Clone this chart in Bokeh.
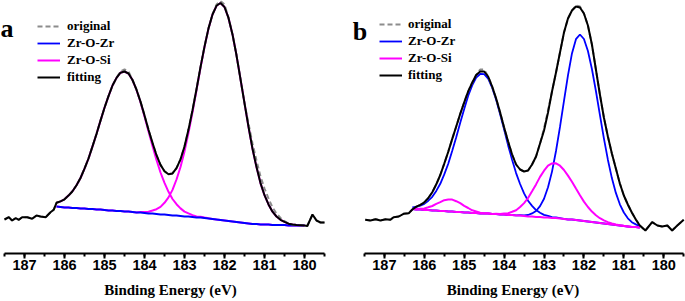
from bokeh.plotting import figure
from bokeh.layouts import row
from bokeh.models import Range1d, SingleIntervalTicker, Legend, LegendItem, Label
from bokeh.embed import file_html
from bokeh.resources import INLINE

# ---------------- Panel a ----------------
# noise region (raw spectrum outside the fitted window)
A_LEFT_E = [187.5, 187.39, 187.31, 187.22, 187.14, 187.06, 186.93, 186.81, 186.7, 186.6, 186.47, 186.35, 186.27]
A_LEFT_I = [34, 36.3, 33, 35.3, 33.7, 36.3, 36.3, 34.7, 38, 37, 36.3, 41.3, 43.7]
A_RIGHT_E = [179.93, 179.8, 179.7, 179.6, 179.5]
A_RIGHT_I = [27.5, 39, 33, 31, 31]

# fitted window
A_E = [186.2, 186.1, 186.0, 185.9, 185.8, 185.7, 185.6, 185.5, 185.4, 185.3,
       185.2, 185.1, 185.0, 184.9, 184.8, 184.7, 184.6, 184.5, 184.4, 184.3,
       184.2, 184.1, 184.0, 183.9, 183.8, 183.7, 183.6, 183.5, 183.4, 183.3,
       183.2, 183.1, 183.0, 182.9, 182.8, 182.7, 182.6, 182.5, 182.4, 182.3,
       182.2, 182.1, 182.0, 181.9, 181.8, 181.7, 181.6, 181.5, 181.4, 181.3,
       181.2, 181.1, 181.0, 180.9, 180.8, 180.7, 180.6, 180.5, 180.4, 180.3,
       180.2, 180.1, 180.0]
A_ZRZR = [47, 46.5, 46, 46, 45.5, 45.5, 45, 45, 44.5, 44.5,
          44, 44, 43.5, 43, 43, 42.5, 42.5, 42, 42, 41.5,
          41, 41, 40.5, 40, 40, 39.5, 39, 39, 38.5, 38,
          38, 37.5, 37, 37, 36.5, 36, 36, 35.5, 35, 34.5,
          34, 33.5, 33, 32.5, 32, 31.5, 31, 30.5, 30, 29.5,
          29.5, 29, 29, 29, 28.5, 28.5, 28.5, 28.5, 28, 28,
          28, 28, 28]
A_ZRSI_1 = [50.7, 52.1, 54.2, 57.9, 62.2, 68.3, 75.5, 84.8, 95, 107.1,
            119.5, 132.9, 145.7, 157.4, 168, 175.6, 180.8, 182, 179.9, 173.4,
            163.5, 151.3, 137.1, 122, 107.6, 93.5, 81, 70.6, 61.7, 54.5,
            49.3, 45.1, 41.9, 40.1, 38.4, 37.1, 36.7, 35.9, 35.2, 34.6,
            34, 33.5, 33, 32.5, 32, 31.5, 31, 30.5, 30, 29.5,
            29.5, 29, 29, 29, 28.5, 28.5, 28.5, 28.5, 28, 28,
            28, 28, 28]
A_ZRSI_2 = [47, 46.5, 46, 46, 45.5, 45.5, 45, 45, 44.5, 44.5,
            44, 44, 43.5, 43, 43, 42.5, 42.5, 42, 42, 41.5,
            41, 41.6, 41.5, 41.8, 43, 44.3, 46.6, 50.7, 56.1, 63.6,
            74, 86.5, 102.1, 120.8, 141.3, 163.2, 185.7, 206.5, 224.9, 238.9,
            247.7, 250.5, 246.5, 235.6, 219.1, 198.2, 174.4, 150.3, 126.6, 104.8,
            86.4, 70.4, 58.3, 49.1, 41.8, 37, 33.7, 31.6, 29.8, 29,
            28.6, 28.3, 28]
A_FIT = [50.7, 52.1, 54.2, 57.9, 62.2, 68.3, 75.5, 84.8, 95, 107.1,
         119.5, 132.9, 145.7, 157.4, 168, 175.6, 180.8, 182, 180, 173.5,
         163.8, 151.9, 138.1, 123.8, 110.6, 98.3, 88.6, 82.3, 79.3, 80.1,
         85.3, 94.1, 107, 123.9, 143.2, 164.3, 186.4, 206.9, 225.1, 239,
         247.7, 250.5, 246.5, 235.6, 219.1, 198.2, 174.4, 150.3, 126.6, 104.8,
         86.4, 70.4, 58.3, 49.1, 41.8, 37, 33.7, 31.6, 29.8, 29,
         28.6, 28.3, 28]
A_ORIG = [50.7, 52.1, 54.2, 57.9, 62.2, 68.3, 75.5, 84.8, 95, 107.1,
          119.5, 132.9, 145.7, 157.4, 168, 175.6, 182, 184, 182, 173.5,
          163.8, 151.9, 138.1, 123.8, 110.6, 98.3, 88.6, 82.3, 79.3, 80.1,
          85.3, 94.1, 107, 123.9, 143.2, 164.3, 186.4, 206.9, 225.1, 239,
          249, 252.5, 249, 235.6, 219.1, 198.2, 174.4, 150.3, 130, 110,
          93, 77, 65, 55, 46, 40, 35.5, 32.5, 29.8, 29,
          28.6, 28.3, 28]

# ---------------- Panel b ----------------
B_LEFT_E = [187.48, 187.35, 187.22, 187.1, 186.97, 186.85, 186.77, 186.64, 186.52, 186.39]
B_LEFT_I = [33.7, 33, 34.3, 33, 34.3, 33.7, 36.3, 37, 39.7, 40.3]
B_RIGHT_E = [180.46, 180.29, 180.16, 180.04, 179.91, 179.79, 179.66, 179.5]
B_RIGHT_I = [23, 31.3, 28, 27, 28, 23, 28, 33.7]

B_E = [186.3, 186.2, 186.1, 186.0, 185.9, 185.8, 185.7, 185.6, 185.5, 185.4,
       185.3, 185.2, 185.1, 185.0, 184.9, 184.8, 184.7, 184.6, 184.5, 184.4,
       184.3, 184.2, 184.1, 184.0, 183.9, 183.8, 183.7, 183.6, 183.5, 183.4,
       183.3, 183.2, 183.1, 183.0, 182.9, 182.8, 182.7, 182.6, 182.5, 182.4,
       182.3, 182.2, 182.1, 182.0, 181.9, 181.8, 181.7, 181.6, 181.5, 181.4,
       181.3, 181.2, 181.1, 181.0, 180.9, 180.8, 180.7, 180.6]
B_ZRZR_1 = [46, 46.5, 47.9, 49.6, 52.8, 56.7, 62.6, 69.7, 79.1, 89.8,
            102.7, 116.2, 130.8, 144.6, 157.7, 168.1, 175.9, 179.5, 179.4, 174.9,
            165.8, 153.8, 139.2, 123.9, 108.1, 93.8, 80.4, 69.5, 60.1, 52.7,
            47.6, 43.4, 40.8, 38.6, 37.6, 36.4, 36, 35.3, 34.6, 34,
            34, 33.5, 33, 32.5, 32, 31.5, 31, 30.5, 30, 29.5,
            29, 28.5, 28, 27.5, 27, 26.5, 26.5, 26]
B_ZRZR_2 = [44.5, 44, 44, 43.5, 43.5, 43, 43, 42.5, 42.5, 42,
            42, 41.5, 41.5, 41, 41, 40.5, 40.5, 40, 40, 40,
            39.5, 39.5, 39, 39, 38.5, 38.5, 38.1, 38.3, 38.2, 38.5,
            40.1, 42.5, 47.4, 54.7, 66.3, 81.9, 102.5, 126.6, 152.6, 178.1,
            200.1, 214.3, 219, 214.5, 202.5, 184.5, 162.5, 138.6, 115.1, 93.8,
            75.4, 60.6, 49.2, 41, 35.2, 31.3, 29.1, 27.4]
B_ZRSI_1 = [44.65, 44.35, 44.8, 45, 46.2, 47.5, 49.6, 51.3, 53.3, 53.9,
            53.9, 52.3, 50.3, 47.6, 45.5, 43.2, 42, 40.8, 40.35, 40.15,
            39.5, 39.5, 39, 39, 38.5, 38.5, 38, 38, 37.5, 37,
            37, 36.5, 36.5, 36, 36, 35.5, 35.5, 35, 34.5, 34,
            34, 33.5, 33, 32.5, 32, 31.5, 31, 30.5, 30, 29.5,
            29, 28.5, 28, 27.5, 27, 26.5, 26.5, 26]
B_ZRSI_2 = [44.5, 44, 44, 43.5, 43.5, 43, 43, 42.5, 42.5, 42,
            42, 41.5, 41.5, 41, 41, 40.5, 40.5, 40, 40, 40,
            39.6, 39.7, 39.5, 40, 40.3, 41.7, 43.3, 46.5, 50.4, 55.5,
            62.2, 69.1, 76.6, 82.8, 87.9, 90.1, 90.2, 87.8, 83.5, 77.9,
            71.8, 64.9, 58.2, 51.9, 46.5, 41.9, 38.2, 35.3, 33.1, 31.4,
            30.1, 29.1, 28.35, 27.7, 27.1, 26.5, 26.5, 26]
B_FIT = [44, 46.9, 48.7, 51.1, 55.5, 61.2, 69.2, 78.5, 89.9, 101.7,
         114.6, 127, 139.6, 151.2, 162.2, 170.8, 178.5, 182, 182, 177,
         167, 155, 141, 126, 112, 99, 89, 84, 82, 83,
         89, 97, 110, 123, 141, 162, 181, 201, 221, 235,
         243, 247, 246, 240, 228, 209, 184, 159, 136, 117,
         100, 85, 70, 58, 49, 41, 34, 28]
B_ORIG = [44, 46.9, 48.7, 51.1, 55.5, 61.2, 69.2, 78.5, 89.9, 101.7,
          114.6, 127, 139.6, 151.2, 162.2, 170.8, 178.5, 184, 184, 177,
          167, 155, 141, 126, 112, 99, 89, 84, 82, 83,
          89, 97, 110, 125, 143, 162, 181, 201, 221, 235,
          243, 248, 247, 240, 228, 209, 184, 159, 136, 117,
          100, 85, 70, 58, 49, 41, 34, 28]

X_LABEL = "Binding Energy (eV)"
LEGEND_LABELS = ["original", "Zr-O-Zr", "Zr-O-Si", "fitting"]

BLUE = "#0000FF"
MAGENTA = "#FF00FF"
GREY = "#8C8C8C"
SERIF = "'Liberation Serif', 'Times New Roman', Times, serif"
SANS = "'Liberation Sans', Arial, Helvetica, sans-serif"


def make_panel(width, x_start, x_end, letter, letter_x, letter_y,
               e_left, i_left, e_fit, fit, orig, e_right, i_right,
               blues, pinks, blue_first, leg_loc, leg_standoff):
    p = figure(width=width, height=301,
               x_range=Range1d(x_start, x_end), y_range=Range1d(0, 253),
               y_axis_location=None, output_backend="svg", toolbar_location=None,
               min_border_left=0, min_border_right=0,
               min_border_top=0, min_border_bottom=48)
    p.grid.visible = False
    p.outline_line_color = None
    p.background_fill_color = "white"
    p.border_fill_color = "white"

    ax = p.xaxis[0]
    ax.bounds = (179.5, 187.5)
    ax.ticker = SingleIntervalTicker(interval=1, num_minor_ticks=2)
    ax.axis_line_width = 2
    ax.axis_line_color = "black"
    ax.major_tick_line_width = 2
    ax.minor_tick_line_width = 2
    ax.major_tick_in = 0
    ax.major_tick_out = 5
    ax.minor_tick_in = 0
    ax.minor_tick_out = 3
    ax.major_label_standoff = 1
    ax.major_label_text_font = SANS
    ax.major_label_text_font_style = "bold"
    ax.major_label_text_font_size = "14.5px"
    ax.major_label_text_color = "black"
    ax.axis_label = X_LABEL
    ax.axis_label_standoff = 9
    ax.axis_label_text_font = SERIF
    ax.axis_label_text_font_style = "bold"
    ax.axis_label_text_font_size = "15px"
    ax.axis_label_text_color = "black"

    def draw_blues():
        return [p.line(e_fit, b, line_color=BLUE, line_width=1.8) for b in blues]

    def draw_pinks():
        return [p.line(e_fit, m, line_color=MAGENTA, line_width=2) for m in pinks]

    if blue_first:
        rb = draw_blues()
        rp = draw_pinks()
    else:
        rp = draw_pinks()
        rb = draw_blues()

    e_all = e_left + e_fit + e_right
    r_orig = p.line(e_all, i_left + orig + i_right, line_color=GREY,
                    line_width=2, line_dash="5 3")
    r_fit = p.line(e_all, i_left + fit + i_right, line_color="black", line_width=2)

    legend = Legend(items=[
        LegendItem(label=LEGEND_LABELS[0], renderers=[r_orig]),
        LegendItem(label=LEGEND_LABELS[1], renderers=[rb[0]]),
        LegendItem(label=LEGEND_LABELS[2], renderers=[rp[0]]),
        LegendItem(label=LEGEND_LABELS[3], renderers=[r_fit]),
    ], location=leg_loc)
    legend.border_line_color = None
    legend.background_fill_alpha = 0
    legend.padding = 0
    legend.margin = 0
    legend.spacing = 1
    legend.glyph_width = 23
    legend.glyph_height = 16
    legend.label_height = 16
    legend.label_standoff = leg_standoff
    legend.label_text_font = SERIF
    legend.label_text_font_style = "bold"
    legend.label_text_font_size = "13px"
    legend.label_text_color = "black"
    p.add_layout(legend)

    p.add_layout(Label(x=letter_x, y=letter_y, text=letter,
                       text_font=SERIF, text_font_style="bold",
                       text_font_size="26px", text_color="black",
                       text_baseline="alphabetic", text_align="left"))
    return p


pa = make_panel(340, 187.6, 179.1, "a", 187.6, 225,
                A_LEFT_E, A_LEFT_I, A_E, A_FIT, A_ORIG, A_RIGHT_E, A_RIGHT_I,
                [A_ZRZR], [A_ZRSI_1, A_ZRSI_2], False, (37, 168), 7)
pb = make_panel(345, 188.10, 179.455, "b", 187.79, 222,
                B_LEFT_E, B_LEFT_I, B_E, B_FIT, B_ORIG, B_RIGHT_E, B_RIGHT_I,
                [B_ZRZR_1, B_ZRZR_2], [B_ZRSI_1, B_ZRSI_2], True, (39, 170), 6)

layout = row(pa, pb)
open("out.html", "w").write(file_html(layout, INLINE))
